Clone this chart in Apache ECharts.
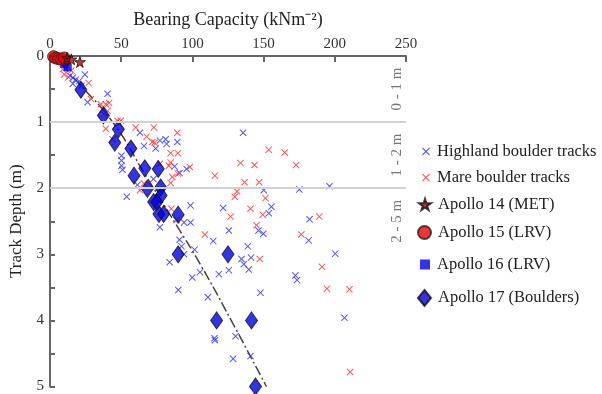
<!DOCTYPE html>
<html>
<head>
<meta charset="utf-8">
<script src="https://cdn.jsdelivr.net/npm/echarts@6/dist/echarts.min.js"></script>
<style>
  html, body { margin: 0; padding: 0; background: #fff; }
  #chart { width: 602px; height: 394px; }
</style>
</head>
<body>
<div id="chart"></div>
<script>
// bearing capacity (kNm-2), track depth (m)
const highland = [
  [11.2, 0.18], [14, 0.3], [16, 0.33], [18, 0.36], [20.5, 0.38], [24.5, 0.28], [16, 0.42], [22, 0.45],
  [40.4, 0.57], [26.4, 0.7],
  [63.2, 1.16], [66, 1.36], [74.2, 1.4], [77.2, 1.28], [81.2, 1.26], [81.9, 1.33], [89.4, 1.3],
  [50.2, 1.51], [50.2, 1.58], [50.2, 1.66], [50.9, 1.72],
  [87.5, 1.67], [91, 1.77], [95.9, 1.71], [72.6, 1.86], [61.4, 1.95], [53.9, 2.13],
  [135.6, 1.16], [150.1, 2.03], [175.1, 2.02], [196.3, 1.97],
  [98.7, 2.26], [121.6, 2.3], [155.5, 2.28], [153.6, 2.38], [182.3, 2.47],
  [94.1, 2.52], [98.7, 2.52], [77.2, 2.59], [125.6, 2.64], [146.4, 2.64], [149.8, 2.69],
  [114.6, 2.8], [91, 2.78], [92.4, 2.88], [94.1, 3.0], [101.5, 2.93], [84, 3.12], [99.9, 3.35],
  [105.3, 3.27], [118.6, 3.3], [125.6, 3.24], [138.9, 2.88], [134.5, 3.07], [141.2, 3.05],
  [136.1, 3.15], [139.6, 3.23],
  [181.6, 2.79], [200.3, 2.99], [172.3, 3.32], [173.5, 3.39], [206.8, 3.96],
  [90.1, 3.54], [110.9, 3.65], [147.8, 3.58], [115.5, 4.27], [115.8, 4.3], [130.3, 4.24],
  [128.6, 4.58], [140.8, 4.54]
];
const mare = [
  [9, 0.2], [10, 0.28], [13, 0.32], [15, 0.22], [27.1, 0.41], [28.7, 0.65], [35.7, 0.73], [39.2, 0.73],
  [41.5, 0.71], [36.9, 0.81], [40.4, 0.83], [38, 0.88], [47.4, 0.98], [49.7, 0.98], [48.5, 1.02],
  [39.2, 1.1], [43.9, 1.26],
  [60.2, 1.08], [73, 1.08], [89.4, 1.16], [67.9, 1.22], [71.9, 1.3], [73.5, 1.31], [84.7, 1.47],
  [89.8, 1.47], [77.2, 1.63], [84.7, 1.61], [83.5, 1.66], [89.8, 1.78], [98.2, 1.68], [85.9, 1.83],
  [84.7, 1.92], [63.2, 2.03], [66, 1.93],
  [115.8, 1.81], [153.6, 1.42], [164.8, 1.46], [133.8, 1.62], [143.6, 1.65], [172.8, 1.65],
  [136.6, 1.91], [146.9, 1.91], [131.4, 2.05], [129.8, 2.13], [151.3, 2.15],
  [126.8, 2.43], [140.8, 2.31], [149.4, 2.4], [189.1, 2.43], [85.2, 2.31], [88.9, 2.48],
  [108.8, 2.7], [145, 2.56], [176.5, 2.7], [147.3, 3.07],
  [191, 3.19], [194.5, 3.52], [210.3, 3.53], [210.8, 4.78]
];
const apollo14 = [[12, 0.03], [15, 0.05], [21, 0.09]];
const apollo15 = [[2.5, 0.01], [4, 0.03], [6, 0.04], [8, 0.05], [10, 0.03]];
const apollo16 = [[10, 0.12], [12.5, 0.17]];
const apollo17 = [
  [21.7, 0.51], [37.5, 0.9], [48, 1.11], [45.5, 1.31], [56.8, 1.4], [66.6, 1.7], [76, 1.71],
  [59, 1.81], [68.4, 2.01], [77.7, 1.99], [78, 2.11], [72.8, 2.21], [75, 2.21], [76.5, 2.39],
  [79.8, 2.39], [90, 2.4], [90, 3.0], [125, 3.0], [117, 4.0], [141.5, 4.0], [144.3, 5.0]
];
const trend = [[8, 0.13], [20, 0.41], [44, 1.0], [67, 1.8], [90, 2.6], [105, 3.13], [128, 4.03], [152, 5.0]];
const bandLines = [1, 2];
const bandLabels = [[243.5, 0.5, '0 - 1 m'], [243.5, 1.5, '1 - 2 m'], [243.5, 2.5, '2 - 5 m']];

const serif = 'Liberation Serif';
const crossPath = 'path://M0,1L1,0L5,4L9,0L10,1L6,5L10,9L9,10L5,6L1,10L0,9L4,5Z';
const starPath = 'path://M50,0L61,35L98,35L68,57L79,91L50,70L21,91L32,57L2,35L39,35Z';

// legend rows, text lined up at the same x
const legendItems = [
  { name: 'Highland boulder tracks', top: 138, w: 8, h: 8 },
  { name: 'Mare boulder tracks', top: 164, w: 8, h: 8 },
  { name: 'Apollo 14 (MET)', top: 191, w: 12, h: 12 },
  { name: 'Apollo 15 (LRV)', top: 219, w: 13, h: 13 },
  { name: 'Apollo 16 (LRV)', top: 251, w: 10, h: 10 },
  { name: 'Apollo 17 (Boulders)', top: 284, w: 13, h: 16 }
];

const chart = echarts.init(document.getElementById('chart'));

const option = {
  animation: false,
  grid: { left: 49, right: 196, top: 56, bottom: 4 },
  legend: legendItems.map(it => ({
    data: [it.name],
    left: 425 - it.w,
    top: it.top,
    itemWidth: it.w,
    itemHeight: it.h,
    itemGap: 0,
    textStyle: { fontFamily: serif, fontSize: 16.5, color: '#222', padding: [0, 0, 0, 2] }
  })),
  xAxis: {
    type: 'value',
    position: 'top',
    min: 0,
    max: 250,
    interval: 50,
    name: 'Bearing Capacity (kNm⁻²)',
    nameLocation: 'middle',
    nameGap: 27,
    nameTextStyle: { fontFamily: serif, fontSize: 18, color: '#222' },
    axisLine: { lineStyle: { color: '#666', width: 2 } },
    axisTick: { inside: true, length: 6, lineStyle: { color: '#666', width: 2 } },
    axisLabel: { fontFamily: serif, fontSize: 15, color: '#333', margin: 4 },
    splitLine: { show: false }
  },
  yAxis: {
    type: 'value',
    inverse: true,
    min: 0,
    max: 5,
    interval: 0.5,
    name: 'Track Depth (m)',
    nameLocation: 'middle',
    nameGap: 25,
    nameTextStyle: { fontFamily: serif, fontSize: 17, color: '#222' },
    axisLine: { lineStyle: { color: '#666', width: 2 } },
    axisTick: { inside: true, length: 5, lineStyle: { color: '#666', width: 2 } },
    axisLabel: {
      fontFamily: serif, fontSize: 15, color: '#333', margin: 6,
      formatter: v => (v % 1 === 0 ? String(v) : '')
    },
    splitLine: { show: false }
  },
  series: [
    {
      name: 'trend',
      type: 'line',
      data: trend,
      symbol: 'none',
      smooth: true,
      silent: true,
      z: 1,
      lineStyle: { color: '#444', width: 1.5, type: [10, 3, 2, 3] },
      markLine: {
        silent: true,
        symbol: 'none',
        label: { show: false },
        lineStyle: { color: '#d2d2d2', width: 2, type: 'solid' },
        data: bandLines.map(v => ({ yAxis: v }))
      }
    },
    {
      name: 'Highland boulder tracks',
      type: 'scatter',
      data: highland,
      symbol: crossPath,
      symbolSize: 7,
      itemStyle: { color: '#2a2aff' },
      z: 3
    },
    {
      name: 'Mare boulder tracks',
      type: 'scatter',
      data: mare,
      symbol: crossPath,
      symbolSize: 7,
      itemStyle: { color: '#ff2a2a' },
      z: 3
    },
    {
      name: 'Apollo 17 (Boulders)',
      type: 'scatter',
      data: apollo17,
      symbol: 'diamond',
      symbolSize: [12, 17],
      itemStyle: { color: '#0000e6', borderColor: '#111', borderWidth: 1 },
      z: 4
    },
    {
      name: 'Apollo 16 (LRV)',
      type: 'scatter',
      data: apollo16,
      symbol: 'rect',
      symbolSize: 8,
      itemStyle: { color: '#0000e6' },
      z: 4
    },
    {
      name: 'Apollo 15 (LRV)',
      type: 'scatter',
      data: apollo15,
      symbol: 'circle',
      symbolSize: 12,
      itemStyle: { color: '#ee0000', borderColor: '#222', borderWidth: 1 },
      z: 5
    },
    {
      name: 'Apollo 14 (MET)',
      type: 'scatter',
      data: apollo14,
      symbol: starPath,
      symbolSize: 11,
      itemStyle: { color: '#c00000', borderColor: '#111', borderWidth: 1 },
      z: 6
    },
    {
      name: 'bands',
      type: 'scatter',
      data: bandLabels.map(b => ({ value: [b[0], b[1]], label: { formatter: b[2] } })),
      symbol: 'circle',
      symbolSize: 1,
      itemStyle: { color: 'rgba(0,0,0,0)' },
      silent: true,
      label: {
        show: true,
        position: 'inside',
        rotate: 90,
        fontFamily: serif,
        fontSize: 15,
        color: '#555'
      }
    }
  ]
};

chart.setOption(option);
</script>
</body>
</html>
